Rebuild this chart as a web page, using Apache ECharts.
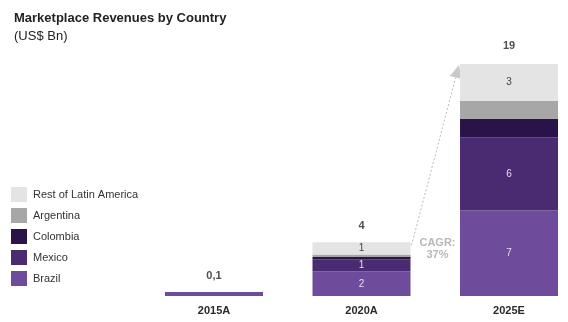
<!DOCTYPE html>
<html>
<head>
<meta charset="utf-8">
<script src="https://cdn.jsdelivr.net/npm/echarts@6/dist/echarts.min.js"></script>
<style>
  html, body { margin: 0; padding: 0; background: #fff; }
  #chart { width: 568px; height: 322px; }
</style>
</head>
<body>
<div id="chart"></div>
<script>
// Marketplace revenues by country, US$ Bn
const categories = ['2015A', '2020A', '2025E'];
const brazil    = [0.1, 2, 7];
const mexico    = [null, 1, 6];
const colombia  = [null, 0.2, 1.5];
const argentina = [null, 0.2, 1.5];
const rest      = [null, 1, 3];
const cagrText  = ['CAGR:', '37%'];

const totals = categories.map((_, i) =>
  [brazil, mexico, colombia, argentina, rest].reduce((s, arr) => s + (arr[i] || 0), 0));

const FONT = '"Liberation Sans", Arial, sans-serif';
const BAR_W = 98;

const colors = {
  brazil: '#6f4b9b',
  mexico: '#4a2b72',
  colombia: '#2a1348',
  argentina: '#a6a7a6',
  rest: '#e4e4e4'
};

function fmtTotal(v) {
  return v < 1 ? v.toFixed(1).replace('.', ',') : String(Math.round(v));
}

function seg(name, data, color, labelColor) {
  return {
    name, type: 'bar', stack: 'total', data, barWidth: BAR_W,
    itemStyle: { color },
    barMinHeight: name === 'Brazil' ? 4 : 0,
    label: labelColor ? {
      show: true, position: 'inside', color: labelColor,
      fontFamily: FONT, fontSize: 10,
      formatter: p => (p.value >= 1 ? String(Math.round(p.value)) : '')
    } : { show: false },
    emphasis: { disabled: true }
  };
}

const chart = echarts.init(document.getElementById('chart'), null, { renderer: 'canvas' });

chart.setOption({
  animation: false,
  title: {
    text: 'Marketplace Revenues by Country',
    subtext: '(US$ Bn)',
    left: 9, top: 7, itemGap: 5,
    textStyle: { fontFamily: FONT, fontSize: 13, fontWeight: 'bold', color: '#222' },
    subtextStyle: { fontFamily: FONT, fontSize: 13, color: '#222' }
  },
  legend: {
    orient: 'vertical', left: 6, top: 182,
    itemWidth: 16, itemHeight: 15, itemGap: 6,
    data: ['Rest of Latin America', 'Argentina', 'Colombia', 'Mexico', 'Brazil'],
    textStyle: { fontFamily: FONT, fontSize: 11, color: '#333', padding: [0, 0, 0, 1] },
    selectedMode: false,
    icon: 'rect'
  },
  grid: { left: 214, right: 59, top: 64, bottom: 26, containLabel: false },
  xAxis: {
    type: 'category', data: categories, boundaryGap: false,
    axisLine: { show: false }, axisTick: { show: false },
    axisLabel: { fontFamily: FONT, fontSize: 11, fontWeight: 'bold', color: '#2a2a2a', margin: 9 }
  },
  yAxis: { type: 'value', min: 0, max: 19, show: false, splitLine: { show: false } },
  series: [
    seg('Brazil', brazil, colors.brazil, '#e6dcf2'),
    seg('Mexico', mexico, colors.mexico, '#e6dcf2'),
    seg('Colombia', colombia, colors.colombia, null),
    seg('Argentina', argentina, colors.argentina, null),
    seg('Rest of Latin America', rest, colors.rest, '#444'),
    {
      name: 'Total', type: 'scatter', symbolSize: 0, silent: true,
      data: totals.map((v, i) => ({
        value: v,
        label: { distance: i === 1 ? 11 : 13 }
      })),
      label: {
        show: true, position: 'top',
        fontFamily: FONT, fontSize: 11, fontWeight: 'bold', color: '#222',
        formatter: p => fmtTotal(p.value)
      }
    }
  ]
});

// Growth arrow from the 2020A stack to the 2025E stack, plus CAGR note
function drawArrow() {
  const a = chart.convertToPixel({ gridIndex: 0 }, [categories[1], totals[1]]);
  const b = chart.convertToPixel({ gridIndex: 0 }, [categories[2], totals[2]]);
  const x1 = a[0] + BAR_W / 2 + 1, y1 = a[1] + 3;
  const x2 = b[0] - BAR_W / 2 - 1, y2 = b[1] + 1;
  const dx = x2 - x1, dy = y2 - y1, len = Math.hypot(dx, dy);
  const ux = dx / len, uy = dy / len;
  const headLen = 13, headHalf = 6;
  const bx = x2 - ux * headLen, by = y2 - uy * headLen;
  const px = -uy, py = ux;
  chart.setOption({
    graphic: [
      {
        type: 'line', silent: true,
        shape: { x1, y1, x2: bx, y2: by },
        style: { stroke: '#b9b9b9', lineWidth: 1, lineDash: [2, 2] }
      },
      {
        type: 'polygon', silent: true,
        shape: { points: [[x2, y2], [bx + px * headHalf, by + py * headHalf], [bx - px * headHalf, by - py * headHalf]] },
        style: { fill: '#c9c9c9' }
      },
      {
        type: 'text', silent: true,
        x: x1 + 26, y: a[1] - 5,
        style: {
          text: cagrText.join('\n'), align: 'center', verticalAlign: 'top',
          fontFamily: FONT, fontSize: 11, fontWeight: 'bold', fill: '#b8b8b8', lineHeight: 12
        }
      }
    ]
  });
}
drawArrow();
</script>
</body>
</html>
